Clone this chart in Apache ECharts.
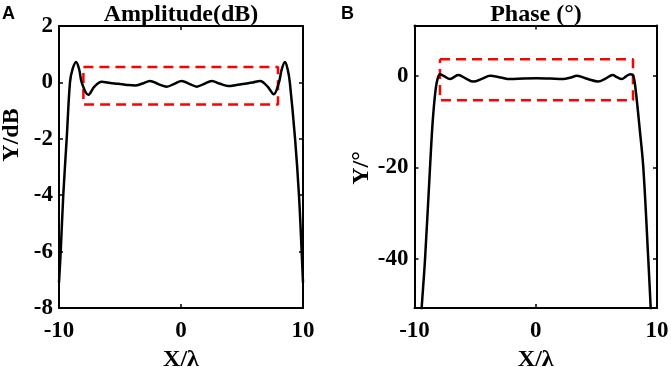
<!DOCTYPE html>
<html>
<head>
<meta charset="utf-8">
<script src="https://cdn.jsdelivr.net/npm/echarts@6/dist/echarts.min.js"></script>
<style>
html, body { margin: 0; padding: 0; background: #fff; }
#main { width: 671px; height: 367px; }
</style>
</head>
<body>
<div id="main"></div>
<script>
//*************** data ***************
var ampX = [-10, -9.86, -9.65, -9.37, -9.1, -8.9, -8.6, -8.34, -8.14, -7.6, -7.1, -6.5, -5.8, -5.14, -4.4, -3.77, -3.15, -2.54, -1.85, -1.17, -0.55, 0.06, 0.68, 1.29, 1.9, 2.52, 3.2, 3.88, 4.55, 5.25, 5.9, 6.48, 7.1, 7.6, 8.03, 8.25, 8.52, 8.75, 8.92, 9.35, 9.67, 9.89, 10];
var ampY = [-7.1, -6, -4, -2, 0, 0.45, 0.72, 0.45, 0, -0.44, -0.15, 0.02, -0.02, -0.05, -0.09, -0.11, -0.04, 0.05, -0.06, -0.15, -0.05, 0.05, -0.05, -0.15, -0.05, 0.05, -0.05, -0.13, -0.09, -0.05, 0, 0.05, -0.15, -0.42, 0, 0.45, 0.72, 0.45, 0, -2, -4, -6, -7.1];

var phaseX = [-9.75, -9.41, -9.13, -8.72, -8.5, -8.26, -8.08, -7.9, -7.6, -7.07, -6.39, -5.75, -5.15, -4.4, -3.77, -2.9, -2.12, -1, 0.08, 1.2, 2.27, 2.9, 3.38, 4.3, 5.16, 5.75, 6.35, 6.7, 7.09, 7.45, 7.8, 8.05, 8.27, 8.55, 8.87, 9.28, 9.48, 9.65];
var phaseY = [-65, -50.7, -40, -20, -10, -3, -0.5, 0.35, 0, -0.7, 0.2, -0.6, -1.25, -0.6, 0, -0.35, -0.7, -0.55, -0.5, -0.6, -0.7, -0.35, 0, -0.7, -1.25, -0.6, 0.2, -0.3, -0.7, -0.1, 0.35, 0, -3.8, -11, -20, -40, -50.7, -60];

// red dashed boxes (x, y corners)
var ampBoxX = [-8, 7.95, 7.95, -8, -8];
var ampBoxY = [0.55, 0.55, -0.78, -0.78, 0.55];
var phaseBoxX = [-7.9, 8.02, 8.02, -7.9, -7.9];
var phaseBoxY = [3.64, 3.64, -5.3, -5.3, 3.64];

var phaseTicks = [-40, -20, 0];

function zip(xs, ys) {
    var out = [];
    for (var i = 0; i < xs.length; i++) out.push([xs[i], ys[i]]);
    return out;
}

//*************** chart ***************
var chart = echarts.init(document.getElementById('main'), null, {renderer: 'canvas'});

var serif = "'Liberation Serif', 'Times New Roman', serif";
var labelStyle = {color: '#000', fontFamily: serif, fontWeight: 'bold', fontSize: 23};
var nameStyle = {color: '#000', fontFamily: serif, fontWeight: 'bold', fontSize: 24};

function xAx(grid, pos) {
    var bottom = pos === 'bottom';
    return {
        type: 'value', gridIndex: grid, position: pos, min: -10, max: 10, interval: 10,
        axisLine: {show: true, onZero: false, lineStyle: {color: '#000', width: 2}},
        axisTick: {show: true, inside: true, length: 4, lineStyle: {color: '#000', width: 1.5}},
        axisLabel: bottom ? Object.assign({margin: 12}, labelStyle) : {show: false},
        splitLine: {show: false},
        name: bottom ? 'X/\u03bb' : '', nameLocation: 'middle', nameGap: 34,
        nameTextStyle: nameStyle
    };
}

function yAx(grid, pos, min, max, interval, custom) {
    var left = pos === 'left';
    var ax = {
        type: 'value', gridIndex: grid, position: pos, min: min, max: max,
        axisLine: {show: true, onZero: false, lineStyle: {color: '#000', width: 2}},
        axisTick: {show: true, inside: true, length: 4, lineStyle: {color: '#000', width: 1.5}},
        axisLabel: left ? Object.assign({margin: 6, padding: [4, 0, 0, 0]}, labelStyle) : {show: false},
        splitLine: {show: false}
    };
    if (custom) {
        ax.axisTick.customValues = custom;
        if (left) ax.axisLabel.customValues = custom;
    } else {
        ax.interval = interval;
    }
    return ax;
}

var option = {
    animation: false,
    backgroundColor: '#fff',
    grid: [
        {left: 59, top: 26, width: 244, height: 282, outerBoundsMode: 'none'},
        {left: 414.5, top: 25.5, width: 242.5, height: 282.5, outerBoundsMode: 'none'}
    ],
    xAxis: [xAx(0, 'bottom'), xAx(0, 'top'), xAx(1, 'bottom'), xAx(1, 'top')],
    yAxis: [
        yAx(0, 'left', -8, 2, 2), yAx(0, 'right', -8, 2, 2),
        yAx(1, 'left', -50.7, 11, null, phaseTicks), yAx(1, 'right', -50.7, 11, null, phaseTicks)
    ],
    graphic: [
        {type: 'text', x: 2, y: 5, style: {text: 'A', font: "bold 18px 'Liberation Sans', Arial, sans-serif", fill: '#000'}},
        {type: 'text', x: 341, y: 5, style: {text: 'B', font: "bold 18px 'Liberation Sans', Arial, sans-serif", fill: '#000'}},
        {type: 'text', x: 181, y: 15, style: {text: 'Amplitude(dB)', font: 'bold 24px ' + serif, fill: '#000', align: 'center', verticalAlign: 'middle'}},
        {type: 'text', x: 536, y: 15, style: {text: 'Phase (\u00b0)', font: 'bold 24px ' + serif, fill: '#000', align: 'center', verticalAlign: 'middle'}},
        {type: 'text', x: 12, y: 135, rotation: Math.PI / 2, style: {text: 'Y/dB', font: 'bold 24px ' + serif, fill: '#000', align: 'center', verticalAlign: 'middle'}},
        {type: 'text', x: 362, y: 168, rotation: Math.PI / 2, style: {text: 'Y/\u00b0', font: 'bold 24px ' + serif, fill: '#000', align: 'center', verticalAlign: 'middle'}}
    ],
    series: [
        {
            type: 'line', xAxisIndex: 0, yAxisIndex: 0, data: zip(ampBoxX, ampBoxY),
            showSymbol: false, lineStyle: {color: '#ff0000', width: 2.5, type: [10, 6]}, z: 2
        },
        {
            type: 'line', xAxisIndex: 0, yAxisIndex: 0, data: zip(ampX, ampY),
            showSymbol: false, smooth: 0.35,
            lineStyle: {color: '#000', width: 2.5}, z: 3
        },
        {
            type: 'line', xAxisIndex: 2, yAxisIndex: 2, data: zip(phaseBoxX, phaseBoxY),
            showSymbol: false, lineStyle: {color: '#ff0000', width: 2.5, type: [10, 6]}, z: 2
        },
        {
            type: 'line', xAxisIndex: 2, yAxisIndex: 2, data: zip(phaseX, phaseY),
            showSymbol: false, smooth: 0.35,
            lineStyle: {color: '#000', width: 2.5}, z: 3
        }
    ]
};

chart.setOption(option);
</script>
</body>
</html>
